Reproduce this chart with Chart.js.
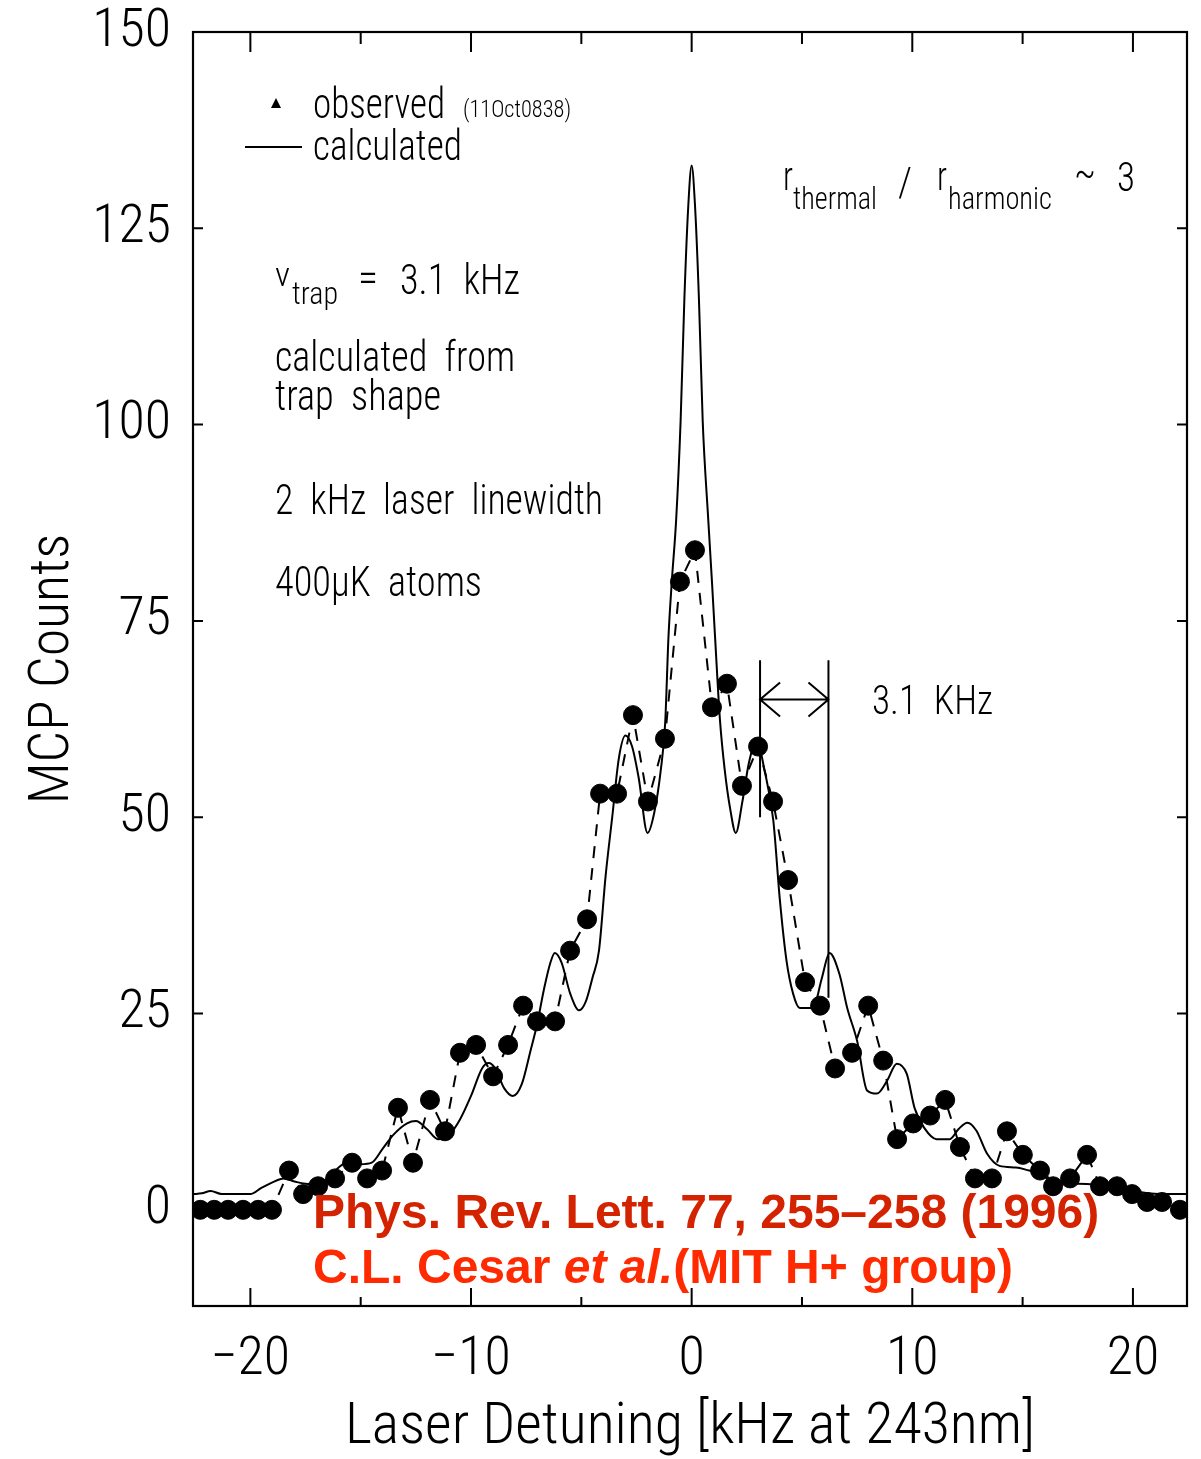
<!DOCTYPE html>
<html>
<head>
<meta charset="utf-8">
<script src="https://cdn.jsdelivr.net/npm/chart.js@4.4.1/dist/chart.umd.min.js"></script>
<style>
  html, body { margin: 0; padding: 0; background: #fff; }
  #wrap { width: 1201px; height: 1459px; }
</style>
</head>
<body>
<div id="wrap"><canvas id="mcpChart" width="1201" height="1459"></canvas></div>
<script>
// observed MCP counts vs laser detuning (kHz at 243 nm)
const obsDetuning = [
  -22.27, -21.64, -21.01, -20.33, -19.65, -19.02, -18.25, -17.61, -16.93, -16.16,
  -15.39, -14.71, -14.03, -13.31, -12.63, -11.86, -11.18, -10.50, -9.77, -9.00,
  -8.32, -7.64, -7.01, -6.19, -5.51, -4.74, -4.15, -3.38, -2.66, -1.98,
  -1.21, -0.53, 0.15, 0.92, 1.60, 2.28, 3.01, 3.69, 4.37, 5.14,
  5.82, 6.50, 7.27, 8.00, 8.68, 9.31, 10.04, 10.81, 11.49, 12.16,
  12.84, 13.61, 14.29, 15.01, 15.79, 16.38, 17.15, 17.92, 18.51, 19.28,
  19.96, 20.64, 21.32, 22.13
];
const obsCounts = [
  0, 0, 0, 0, 0, 0, 5, 2, 3, 4,
  6, 4, 5, 13, 6, 14, 10, 20, 21, 17,
  21, 26, 24, 24, 33, 37, 53, 53, 63, 52,
  60, 80, 84, 64, 67, 54, 59, 52, 42, 29,
  26, 18, 20, 26, 19, 9, 11, 12, 14, 8,
  4, 4, 10, 7, 5, 3, 4, 7, 3, 3,
  2, 1, 1, 0
];

// calculated line shape (trap shape, 2 kHz linewidth)
const calcDetuning = [
  -22.6, -22.2, -21.8, -21.3, -20.6, -20.0, -19.5, -19.0, -18.5, -18.0,
  -17.4, -16.9, -16.4, -16.0, -15.5, -15.0, -14.5, -14.0, -13.5, -12.9,
  -12.5, -12.0, -11.5, -11.0, -10.5, -10.0, -9.5, -9.2, -8.9, -8.5,
  -8.1, -7.7, -7.3, -7.0, -6.7, -6.4, -6.2, -5.9, -5.5, -5.1,
  -4.8, -4.5, -4.2, -3.9, -3.6, -3.3, -3.0, -2.7, -2.4, -2.0,
  -1.7, -1.4, -1.2, -1.05, -0.9, -0.7, -0.5, -0.33, -0.15, 0,
  0.15, 0.33, 0.5, 0.75, 0.92, 1.06, 1.28, 1.5, 1.75, 2.0,
  2.3, 2.6, 2.95, 3.3, 3.7, 4.0, 4.3, 4.6, 4.9, 5.5,
  5.9, 6.25, 6.7, 7.05, 7.5, 7.95, 8.4, 8.85, 9.3, 9.75,
  10.1, 10.55, 11.1, 11.7, 12.1, 12.5, 12.9, 13.4, 13.95, 14.7,
  15.3, 15.9, 16.6, 17.9, 19.4, 21.2, 22.45
];
const calcCounts = [
  2.0, 2.1, 2.4, 2.0, 2.0, 2.0, 2.8, 3.5, 4.0, 3.6,
  3.3, 3.4, 4.2, 5.4, 6.2, 5.8, 6.0, 7.8, 9.6, 11.0,
  11.3, 10.3, 9.0, 9.5, 11.5, 14.5, 18.0, 18.7, 18.0, 15.5,
  14.5, 16.0, 20.3, 23.7, 28.0, 31.5, 32.7, 31.5, 27.5, 25.4,
  26.5, 29.5, 33.0, 42.5, 50.0, 57.5, 60.4, 59.0, 55.0, 48.0,
  50.5, 56.0, 62.0, 73.0, 80.0, 88.0, 100.5, 116, 128, 133,
  128, 116, 100.5, 88, 80, 73, 62.5, 56, 51, 48,
  52, 57, 59.8, 56, 49.6, 39.4, 31.7, 27.5, 25.7, 25.7,
  29.5, 32.7, 30, 25.7, 21.5, 15.2, 14.8, 16.4, 18.6, 17.3,
  13.0, 10.4, 9.0, 9.0, 10.3, 11.1, 10.1, 7.1, 5.6, 5.4,
  5.0, 4.6, 3.4, 3.3, 2.7, 2.0, 2.0
];

const xTickValues = [-20, -10, 0, 10, 20];
const xMinorValues = [-15, -5, 5, 15];
const yTickValues = [0, 25, 50, 75, 100, 125, 150];

// trap frequency spacing marker (kHz), drawn between the 0th and 1st sideband
const sidebandMarks = [3.1, 6.2];

const thinFont = "'Roboto Condensed', 'Roboto', 'DejaVu Sans Condensed', sans-serif";

function toPoints(xs, ys) {
  return xs.map((x, i) => ({ x: x, y: ys[i] }));
}

// squeezed thin text, width given in px so the glyphs look narrow
function thinText(ctx, text, x, y, size, width) {
  ctx.save();
  ctx.font = '300 ' + size + 'px ' + thinFont;
  ctx.fillStyle = '#000';
  ctx.textBaseline = 'alphabetic';
  ctx.textAlign = 'left';
  const w = ctx.measureText(text).width;
  ctx.translate(x, y);
  if (width) ctx.scale(width / w, 1);
  ctx.fillText(text, 0, 0);
  ctx.restore();
}

const framePlugin = {
  id: 'frameAndNotes',
  afterDraw(chart) {
    const ctx = chart.ctx;
    const a = chart.chartArea;
    const xs = chart.scales.x;
    const ys = chart.scales.y;

    ctx.save();
    ctx.strokeStyle = '#000';
    ctx.lineWidth = 2.2;
    ctx.strokeRect(a.left, a.top, a.right - a.left, a.bottom - a.top);

    // inward ticks on all four sides
    ctx.lineWidth = 2;
    ctx.beginPath();
    xTickValues.forEach(v => {
      const px = xs.getPixelForValue(v);
      ctx.moveTo(px, a.bottom); ctx.lineTo(px, a.bottom - 18);
      ctx.moveTo(px, a.top); ctx.lineTo(px, a.top + 20);
    });
    xMinorValues.forEach(v => {
      const px = xs.getPixelForValue(v);
      ctx.moveTo(px, a.bottom); ctx.lineTo(px, a.bottom - 9);
      ctx.moveTo(px, a.top); ctx.lineTo(px, a.top + 12);
    });
    yTickValues.forEach(v => {
      const py = ys.getPixelForValue(v);
      ctx.moveTo(a.left, py); ctx.lineTo(a.left + 10, py);
      ctx.moveTo(a.right, py); ctx.lineTo(a.right - 10, py);
    });
    ctx.stroke();

    // sideband spacing marker
    const m0 = xs.getPixelForValue(sidebandMarks[0]);
    const m1 = xs.getPixelForValue(sidebandMarks[1]);
    const top = ys.getPixelForValue(70);
    const arrowY = ys.getPixelForValue(65);
    ctx.lineWidth = 2;
    ctx.beginPath();
    ctx.moveTo(m0, top); ctx.lineTo(m0, ys.getPixelForValue(50));
    ctx.moveTo(m1, top); ctx.lineTo(m1, ys.getPixelForValue(27));
    ctx.moveTo(m0, arrowY); ctx.lineTo(m1, arrowY);
    ctx.moveTo(m0 + 20, arrowY - 17); ctx.lineTo(m0, arrowY); ctx.lineTo(m0 + 20, arrowY + 17);
    ctx.moveTo(m1 - 20, arrowY - 17); ctx.lineTo(m1, arrowY); ctx.lineTo(m1 - 20, arrowY + 17);
    ctx.stroke();
    thinText(ctx, '3.1  KHz', 872, 714, 40, 121);

    // legend
    ctx.fillStyle = '#000';
    ctx.beginPath();
    ctx.moveTo(276, 98); ctx.lineTo(281, 108); ctx.lineTo(271, 108);
    ctx.closePath(); ctx.fill();
    thinText(ctx, 'observed', 313, 118, 42, 132);
    thinText(ctx, '(11Oct0838)', 463, 117, 24, 108);
    ctx.beginPath();
    ctx.moveTo(245, 147); ctx.lineTo(302, 147);
    ctx.stroke();
    thinText(ctx, 'calculated', 313, 160, 42, 149);

    // ratio note, top right
    thinText(ctx, 'r', 783, 190, 40, 10);
    thinText(ctx, 'thermal', 793, 209, 32, 84);
    thinText(ctx, '/', 898, 196, 40, 14);
    thinText(ctx, 'r', 937, 190, 40, 10);
    thinText(ctx, 'harmonic', 948, 209, 32, 104);
    thinText(ctx, '~', 1074, 186, 40, 22);
    thinText(ctx, '3', 1117, 191, 40, 18);

    // trap notes, left
    thinText(ctx, '\u03bd', 275, 286, 34, 15);
    thinText(ctx, 'trap', 292, 304, 32, 46);
    thinText(ctx, '=', 358, 291, 40, 20);
    thinText(ctx, '3.1  kHz', 400, 294, 42, 120);
    thinText(ctx, 'calculated  from', 275, 371, 42, 240);
    thinText(ctx, 'trap  shape', 275, 410, 42, 166);
    thinText(ctx, '2  kHz  laser  linewidth', 275, 514, 42, 328);
    thinText(ctx, '400\u00b5K  atoms', 275, 596, 42, 207);

    // reference
    ctx.textBaseline = 'alphabetic';
    ctx.textAlign = 'left';
    ctx.font = 'bold 48px "Liberation Sans", Arial, sans-serif';
    ctx.fillStyle = '#d42300';
    ctx.fillText('Phys. Rev. Lett. 77, 255\u2013258 (1996)', 313, 1228);
    ctx.fillStyle = '#ff2a00';
    let x = 313;
    const part1 = 'C.L. Cesar ';
    ctx.fillText(part1, x, 1283);
    x += ctx.measureText(part1).width;
    ctx.font = 'italic bold 48px "Liberation Sans", Arial, sans-serif';
    ctx.fillText('et al.', x, 1283);
    x += ctx.measureText('et al.').width;
    ctx.font = 'bold 48px "Liberation Sans", Arial, sans-serif';
    ctx.fillText('(MIT H+ group)', x, 1283);
    ctx.restore();
  }
};

const ctx = document.getElementById('mcpChart').getContext('2d');
const mcpChart = new Chart(ctx, {
  type: 'scatter',
  data: {
    datasets: [
      {
        label: 'calculated',
        data: toPoints(calcDetuning, calcCounts),
        showLine: true,
        borderColor: '#000',
        borderWidth: 2,
        pointRadius: 0,
        cubicInterpolationMode: 'monotone',
        fill: false
      },
      {
        label: 'observed',
        data: toPoints(obsDetuning, obsCounts),
        showLine: true,
        borderColor: '#000',
        borderWidth: 2,
        borderDash: [12, 10],
        pointRadius: 9.5,
        pointBackgroundColor: '#000',
        pointBorderColor: '#000',
        pointBorderWidth: 1,
        fill: false
      }
    ]
  },
  options: {
    responsive: false,
    animation: false,
    devicePixelRatio: 1,
    layout: { padding: { top: 32, right: 14, bottom: 0, left: 0 } },
    plugins: {
      legend: { display: false },
      tooltip: { enabled: false }
    },
    scales: {
      x: {
        type: 'linear',
        min: -22.6,
        max: 22.45,
        afterBuildTicks: scale => { scale.ticks = xTickValues.map(v => ({ value: v })); },
        afterFit: scale => {
          scale.height = 153;
          scale.paddingLeft = 0;
          scale.paddingRight = 0;
        },
        grid: { display: false, drawTicks: false },
        border: { display: false },
        ticks: {
          color: '#000',
          padding: 22,
          font: { family: thinFont, size: 54, weight: '300' },
          callback: v => (v < 0 ? '\u2212' + Math.abs(v) : String(v))
        },
        title: {
          display: true,
          text: 'Laser Detuning [kHz at 243nm]',
          color: '#000',
          font: { family: thinFont, size: 58, weight: '300', lineHeight: 1 },
          padding: { top: 0, bottom: 2 }
        }
      },
      y: {
        type: 'linear',
        min: -12.25,
        max: 150,
        afterBuildTicks: scale => { scale.ticks = yTickValues.map(v => ({ value: v })); },
        afterFit: scale => {
          scale.width = 193;
          scale.paddingTop = 0;
          scale.paddingBottom = 0;
        },
        grid: { display: false, drawTicks: false },
        border: { display: false },
        ticks: {
          color: '#000',
          padding: 22,
          font: { family: thinFont, size: 54, weight: '300', lineHeight: 1 }
        },
        title: {
          display: true,
          text: 'MCP Counts',
          color: '#000',
          font: { family: thinFont, size: 56, weight: '300' },
          padding: { top: 20, bottom: 0 }
        }
      }
    }
  },
  plugins: [framePlugin]
});
</script>
</body>
</html>
